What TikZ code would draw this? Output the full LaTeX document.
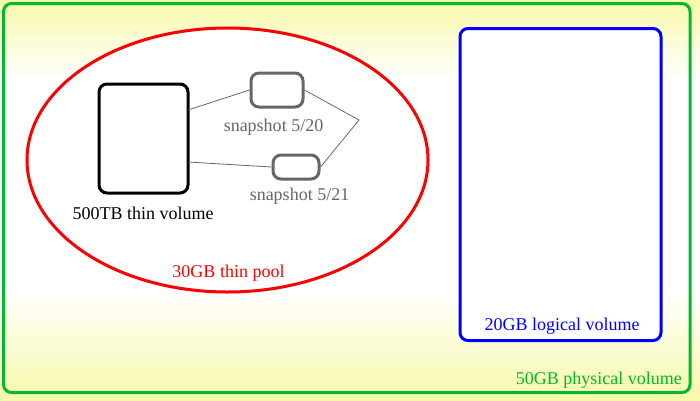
\documentclass[tikz,border=0pt]{standalone}
\usepackage{fontspec}
\setmainfont{Liberation Serif}
\usetikzlibrary{shapes.geometric}
\definecolor{bgyel}{RGB}{247,249,170}
\definecolor{pvgreen}{RGB}{0,185,45}
\definecolor{snapgray}{RGB}{102,102,102}
\begin{document}
\begin{tikzpicture}[x=1pt,y=-1pt,
  lbl/.style={font=\fontsize{18}{21}\selectfont, inner sep=0pt},
  vol/.style={draw, line width=3pt, rounded corners=8pt, fill=white, inner sep=0pt},
  link/.style={draw=snapgray, line width=0.8pt}]
\useasboundingbox (0,0) rectangle (700,400);
% background gradient
\fill[white] (0,0) rectangle (700,400);
\shade[top color=bgyel, bottom color=white] (0,0) rectangle (700,80);
\shade[top color=white, bottom color=bgyel] (0,290) rectangle (700,400);
% physical volume
\node[vol, fill=none, draw=pvgreen, minimum width=686.5pt, minimum height=389pt] (pv) at (346.75,198) {};
\node[lbl, text=pvgreen, anchor=base east] (pvl) at (682,384) {50GB physical volume};
% thin pool
\node[draw=red, fill=white, line width=3pt, ellipse, minimum width=401pt, minimum height=264pt, inner sep=0pt] (pool) at (227.5,160) {};
\node[lbl, text=red, anchor=base] (pooll) at (228.5,277) {30GB thin pool};
% thin volume
\node[vol, draw=black, minimum width=89pt, minimum height=109pt] (tv) at (143.5,138.5) {};
\coordinate (tvA) at (188,110);
\coordinate (tvB) at (188,162);
\node[lbl, anchor=base] (tvl) at (143,219) {500TB thin volume};
% snapshots
\node[vol, draw=snapgray, minimum width=52pt, minimum height=34pt] (s1) at (277,90) {};
\node[lbl, text=snapgray, anchor=base] (s1l) at (273.5,131) {snapshot 5/20};
\node[vol, draw=snapgray, minimum width=46pt, minimum height=24pt] (s2) at (296,167) {};
\node[lbl, text=snapgray, anchor=base] (s2l) at (299.5,200) {snapshot 5/21};
\coordinate (j) at (359,120);
\draw[link] (tvA) -- (s1.west);
\draw[link] (tvB) -- (s2.west);
\draw[link] (s1.east) -- (j) -- (s2.east);
% logical volume
\node[vol, draw=blue, minimum width=201pt, minimum height=312pt] (lv) at (560.5,184.5) {};
\node[lbl, text=blue, anchor=base] (lvl) at (562,330) {20GB logical volume};
\end{tikzpicture}
\end{document}
